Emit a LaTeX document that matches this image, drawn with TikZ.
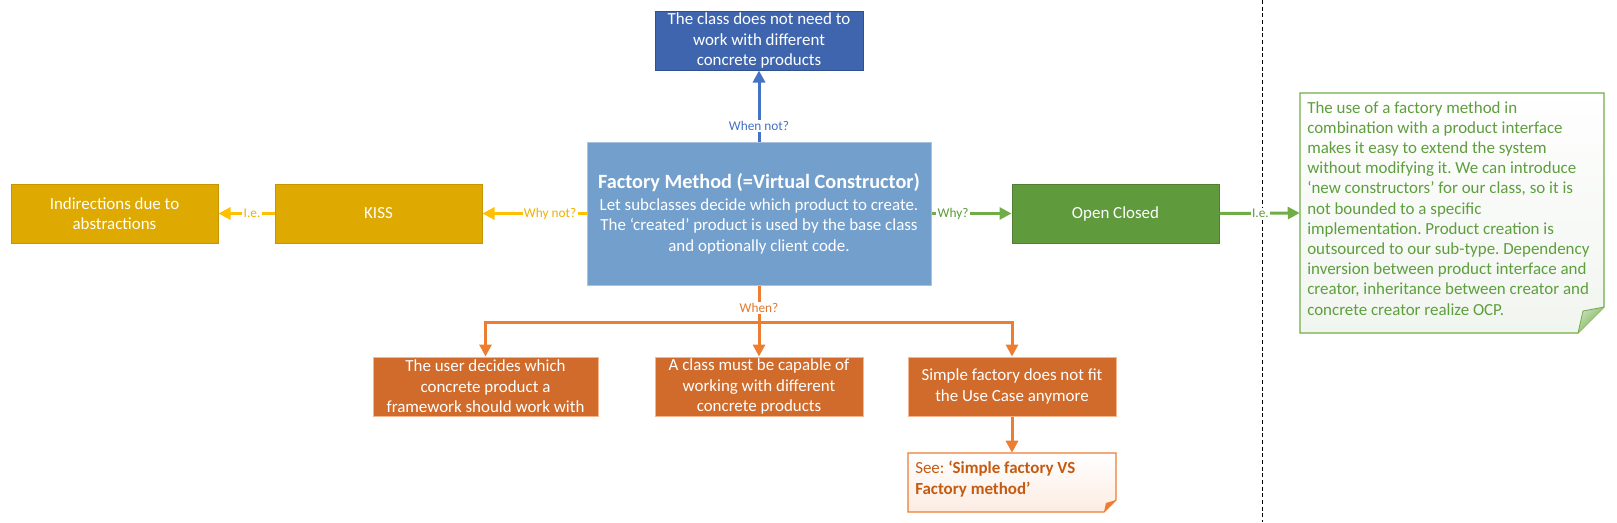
\documentclass[tikz,border=0pt]{standalone}
\usepackage{fontspec}
\setmainfont{Carlito}
\frenchspacing
\usetikzlibrary{arrows.meta,calc}
\definecolor{topblue}{HTML}{3F65AF}
\definecolor{topblueb}{HTML}{2F528F}
\definecolor{mainblue}{HTML}{739FCD}
\definecolor{mainblueb}{HTML}{A9C2E0}
\definecolor{arrblue}{HTML}{4472C4}
\definecolor{goldf}{HTML}{DEA900}
\definecolor{goldb}{HTML}{C59600}
\definecolor{arrgold}{HTML}{FFC000}
\definecolor{lblgold}{HTML}{F0B000}
\definecolor{greenf}{HTML}{5F9A3D}
\definecolor{greenb}{HTML}{507E32}
\definecolor{arrgreen}{HTML}{70AD47}
\definecolor{lblgreen}{HTML}{5B9B3A}
\definecolor{notetxt}{HTML}{5E9E3E}
\definecolor{orangef}{HTML}{D06B2C}
\definecolor{orangeb}{HTML}{F3B68D}
\definecolor{arrorange}{HTML}{ED7D31}
\definecolor{lblorange}{HTML}{E0782F}
\definecolor{seetxt}{HTML}{C55A11}
\tikzset{
  boxbase/.style={rectangle, line width=0.75pt, align=center, inner sep=0pt,
    text=white, font=\fontsize{12.7}{15.4}\selectfont},
  stdbox/.style={boxbase, minimum width=155.25pt, minimum height=44.25pt},
  conn/.style={line width=2.25pt, -{Triangle[length=9pt,width=9pt]}},
  plain/.style={line width=2.25pt},
  lbl/.style={fill=white, inner sep=1pt, font=\fontsize{10}{12}\selectfont},
}
\begin{document}
\begin{tikzpicture}[x=0.75pt,y=-0.75pt, line join=miter]
\useasboundingbox (0,0) rectangle (1617,522);
% dashed separator
\draw[black, line width=0.75pt, dash pattern=on 3pt off 2pt] (1262,0) -- (1262,522);

% boxes
\node[stdbox, fill=topblue, draw=topblueb, minimum width=156pt] (top) at (759,40.5)
  {The class does not need to\\work with different\\concrete products};
\node[boxbase, fill=mainblue, draw=mainblueb, minimum width=258pt, minimum height=107.25pt] (main) at (759,213.5)
  {{\fontsize{15.2}{17}\selectfont\bfseries Factory Method (=Virtual Constructor)}\\[1pt]
   Let subclasses decide which product to create.\\
   The ‘created’ product is used by the base class\\
   and optionally client code.};
\node[stdbox, fill=goldf, draw=goldb] (kiss) at (378.5,213.5) {KISS};
\node[stdbox, fill=goldf, draw=goldb] (indir) at (114.5,213.5) {Indirections due to\\abstractions};
\node[stdbox, fill=greenf, draw=greenb] (oc) at (1115.5,213.5) {Open Closed};
\node[stdbox, fill=orangef, draw=orangeb, minimum width=168.75pt] (o1) at (485.5,386.5)
  {The user decides which\\concrete product a\\framework should work with};
\node[stdbox, fill=orangef, draw=orangeb, minimum width=156pt] (o2) at (759,386.5)
  {A class must be capable of\\working with different\\concrete products};
\node[stdbox, fill=orangef, draw=orangeb, minimum width=156pt] (o3) at (1012,386.5)
  {Simple factory does not fit\\the Use Case anymore};

% right note (folded corner)
\fill[white] (1300,93) -- (1604,93) -- (1604,307) -- (1578,333) -- (1300,333) -- cycle;
\shade[top color=white, bottom color={rgb,255:red,232;green,239;blue,229}, opacity=0.6]
  (1300,93) -- (1604,93) -- (1604,307) -- (1578,333) -- (1300,333) -- cycle;
\draw[arrgreen, line width=0.9pt] (1300,93) -- (1604,93) -- (1604,307) -- (1578,333) -- (1300,333) -- cycle;
\shade[top color={rgb,255:red,200;green,222;blue,185}, bottom color=arrgreen, shading angle=45]
  (1604,307) -- (1583,311) -- (1578,333) -- cycle;
\draw[arrgreen, line width=0.6pt] (1604,307) -- (1583,311) -- (1578,333);
\node[inner sep=0pt, minimum width=228pt, minimum height=180pt] (note) at (1452,213) {};
\node[anchor=north west, inner sep=0pt, align=left, text=notetxt,
      font=\fontsize{12.7}{15.15}\selectfont] (notetext) at (1307,101)
  {The use of a factory method in\\
   combination with a product interface\\
   makes it easy to extend the system\\
   without modifying it. We can introduce\\
   ‘new constructors’ for our class, so it is\\
   not bounded to a specific\\
   implementation. Product creation is\\
   outsourced to our sub-type. Dependency\\
   inversion between product interface and\\
   creator, inheritance between creator and\\
   concrete creator realize OCP.};

% see note (folded corner)
\shade[top color=white, bottom color={rgb,255:red,252;green,236;blue,226}]
  (908,453) -- (1116,453) -- (1116,500) -- (1104,512) -- (908,512) -- cycle;
\draw[arrorange, line width=0.9pt] (908,453) -- (1116,453) -- (1116,500) -- (1104,512) -- (908,512) -- cycle;
\fill[arrorange] (1116,500) -- (1106,503) -- (1104,512) -- cycle;
\node[inner sep=0pt, minimum width=156pt, minimum height=44.25pt] (see) at (1012,482.5) {};
\node[anchor=north west, inner sep=0pt, align=left, text=seetxt,
      font=\fontsize{12.7}{15.2}\selectfont] (seetext) at (915,461)
  {See: {\bfseries ‘Simple factory VS}\\{\bfseries Factory method’}};

% connectors
\draw[conn, arrblue] (main.north) -- node[lbl, text=arrblue, pos=0.22] {When not?} (top.south);
\draw[conn, arrgold] (main.west) -- node[lbl, text=lblgold, pos=0.35] {Why not?} (kiss.east);
\draw[conn, arrgold] (kiss.west) -- node[lbl, text=lblgold, pos=0.40] {I.e.} (indir.east);
\draw[conn, arrgreen] (main.east) -- node[lbl, text=lblgreen, pos=0.27] {Why?} (oc.west);
\draw[conn, arrgreen] (oc.east) -- node[lbl, text=lblgreen, pos=0.51] {I.e.} (note.west);
\coordinate (bar) at (759,322);
\draw[plain, arrorange] (main.south) -- node[lbl, text=lblorange, pos=0.62] {When?} (bar);
\draw[conn, arrorange] (bar) -| (o1.north);
\draw[conn, arrorange] (bar) -- (o2.north);
\draw[conn, arrorange] (bar) -| (o3.north);
\draw[conn, arrorange] (o3.south) -- (see.north);
\end{tikzpicture}
\end{document}
